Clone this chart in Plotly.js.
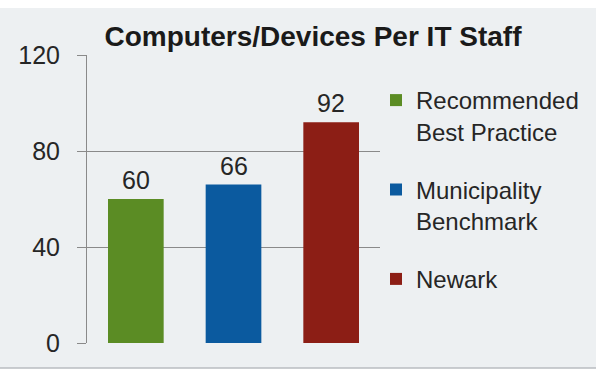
<!DOCTYPE html>
<html>
<head>
<meta charset="utf-8">
<script src="https://cdn.plot.ly/plotly-3.0.1.min.js"></script>
<style>html,body{margin:0;padding:0;background:#fff;}#chart{width:596px;height:371px;}</style>
</head>
<body>
<div id="chart"></div>
<script>
const categories = ["Recommended<br>Best Practice", "Municipality<br>Benchmark", "Newark"];
const values = [60, 66, 92];
const colors = ["#5b8c24", "#0b5a9f", "#8c1e15"];
const yTicks = [0, 40, 80, 120];
const titleText = "Computers/Devices Per IT Staff";

const font = "'Liberation Sans', Arial, sans-serif";
const L = 87, R = 216, T = 55, B = 28, W = 596, H = 371;
const pw = W - L - R, ph = H - T - B;
const px2x = p => (p - L) / pw;
const px2y = p => (H - B - p) / ph;

const traces = categories.map((c, i) => ({
  type: 'bar',
  x: [i],
  y: [values[i]],
  name: c,
  legendgroup: 'g' + i,
  width: 0.57,
  marker: {color: colors[i]},
  hoverinfo: 'none'
}));

const annotations = values.map((v, i) => ({
  x: i, y: v, xref: 'x', yref: 'y',
  text: String(v), showarrow: false,
  yanchor: 'bottom', yshift: 3,
  font: {family: font, size: 25, color: '#262626'}
}));

const layout = {
  width: W, height: H,
  margin: {l: L, r: R, t: T, b: B, pad: 0, autoexpand: false},
  paper_bgcolor: '#edf0f2',
  plot_bgcolor: 'rgba(0,0,0,0)',
  barmode: 'overlay',
  showlegend: true,
  title: {
    text: '<b>' + titleText + '</b>',
    x: 313 / W, xref: 'container', xanchor: 'center',
    y: 1 - 36 / H, yref: 'container', yanchor: 'middle',
    font: {family: font, size: 28, color: '#1a1a1a'}
  },
  xaxis: {
    range: [-0.5, 2.5],
    showticklabels: false, showgrid: false, zeroline: false,
    ticks: '', showline: false, fixedrange: true
  },
  yaxis: {
    range: [0, 120],
    tickvals: yTicks,
    ticktext: yTicks.map(String),
    ticks: 'outside', ticklen: 9, tickcolor: '#8a8a8a', tickwidth: 1,
    ticklabelstandoff: 12,
    showgrid: true, gridcolor: '#8a8a8a', gridwidth: 1,
    zeroline: false,
    showline: true, linecolor: '#8a8a8a', linewidth: 1,
    tickfont: {family: font, size: 25, color: '#262626'},
    fixedrange: true
  },
  legend: {
    x: px2x(376), xanchor: 'left',
    y: px2y(78), yanchor: 'top',
    valign: 'top',
    tracegroupgap: 24,
    itemwidth: 30,
    bgcolor: 'rgba(0,0,0,0)',
    font: {family: font, size: 24, color: '#262626'}
  },
  annotations: annotations,
  shapes: [
    {type: 'rect', xref: 'paper', yref: 'paper', layer: 'below',
     x0: px2x(0), x1: px2x(W), y0: px2y(0), y1: px2y(8),
     fillcolor: '#ffffff', line: {width: 0}},
    {type: 'rect', xref: 'paper', yref: 'paper', layer: 'below',
     x0: px2x(0), x1: px2x(W), y0: px2y(368), y1: px2y(H),
     fillcolor: '#ffffff', line: {width: 0}},
    {type: 'line', xref: 'paper', yref: 'paper', layer: 'below',
     x0: px2x(0), x1: px2x(W), y0: px2y(368), y1: px2y(368),
     line: {color: '#b8bcc0', width: 1.5}}
  ]
};

Plotly.newPlot('chart', traces, layout, {displayModeBar: false, staticPlot: true});
</script>
</body>
</html>
